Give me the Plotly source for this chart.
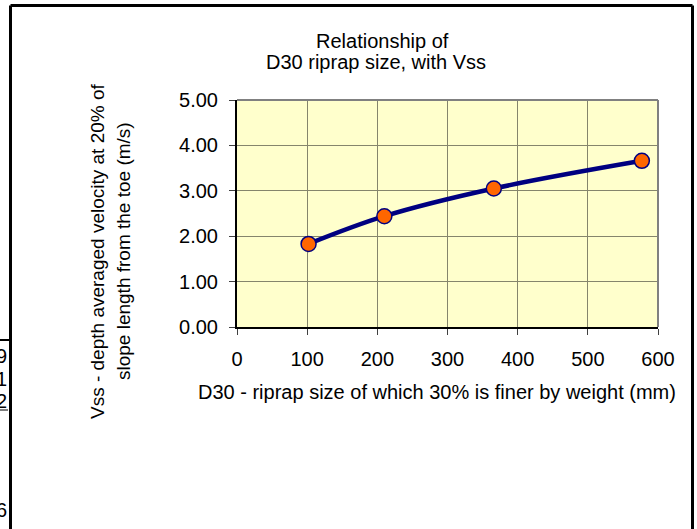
import plotly.graph_objects as go

# D30 riprap size (mm) and the matching Vss (m/s)
d30_mm = [102, 210, 366, 577]
vss_ms = [1.83, 2.44, 3.05, 3.66]

x_ticks = [0, 100, 200, 300, 400, 500, 600]
y_ticks = [0, 1, 2, 3, 4, 5]
y_tick_text = ["0.00", "1.00", "2.00", "3.00", "4.00", "5.00"]

title_lines = ["Relationship of", "D30 riprap size, with Vss"]
x_title = "D30 - riprap size of which 30% is finer by weight (mm)"
y_title_lines = ["Vss - depth averaged velocity at 20% of", "slope length from the toe (m/s)"]

# clipped spreadsheet cell values peeking out left of the chart object
side_digits = ["9", "1", "2", "6"]

W, H = 697, 529
ML, MR, MT, MB = 237, 39, 100, 202
PW, PH = W - ML - MR, H - MT - MB


def px(x):
    return (x - ML) / PW


def py(y):
    return (H - MB - y) / PH


FONT = "Liberation Sans, Arial, sans-serif"
fs = 20      # horizontal text
fs_rot = 19  # rotated axis title

fig = go.Figure()
fig.add_trace(go.Scatter(
    x=d30_mm, y=vss_ms,
    mode="lines+markers",
    line=dict(color="#000080", width=4.5, shape="spline", smoothing=1),
    marker=dict(size=15, color="#FF6600", line=dict(color="#000080", width=1.5)),
    hoverinfo="x+y",
))

axis_common = dict(
    showgrid=True, gridcolor="#85856c", gridwidth=1,
    ticks="outside", ticklen=6, tickcolor="#404040", tickwidth=1,
    showline=True, linecolor="black", linewidth=2,
    zeroline=False,
    tickfont=dict(family=FONT, size=fs, color="black"),
)

fig.update_xaxes(range=[0, 600], tickvals=x_ticks, ticklabelstandoff=7, **axis_common)
fig.update_yaxes(range=[0, 5], tickvals=y_ticks, ticktext=y_tick_text,
                 ticklabelstandoff=7, **axis_common)

shapes = [
    # gray top/right edges of the plot area
    dict(type="line", xref="paper", yref="paper", x0=0, x1=1, y0=1, y1=1,
         line=dict(color="#808080", width=2)),
    dict(type="line", xref="paper", yref="paper", x0=1, x1=1, y0=0, y1=1,
         line=dict(color="#808080", width=2)),
    # outer chart-object frame
    dict(type="line", xref="paper", yref="paper", x0=px(10.5), x1=px(10.5),
         y0=py(540), y1=py(5.5), line=dict(color="black", width=3)),
    dict(type="line", xref="paper", yref="paper", x0=px(10.5), x1=px(692.5),
         y0=py(5.5), y1=py(5.5), line=dict(color="black", width=3)),
    dict(type="line", xref="paper", yref="paper", x0=px(692.5), x1=px(692.5),
         y0=py(540), y1=py(5.5), line=dict(color="black", width=3)),
    # cell borders to the left of the frame
    dict(type="line", xref="paper", yref="paper", x0=px(-2), x1=px(10),
         y0=py(340), y1=py(340), line=dict(color="black", width=2)),
    dict(type="line", xref="paper", yref="paper", x0=px(-2), x1=px(8),
         y0=py(410), y1=py(410), line=dict(color="black", width=1)),
]


def label(text, x, y, size=fs, angle=0, anchor="center"):
    return dict(text=text, x=px(x), y=py(y), xref="paper", yref="paper",
                showarrow=False, textangle=angle, xanchor=anchor, yanchor="middle",
                font=dict(family=FONT, size=size, color="black"))


annotations = [
    label(title_lines[0], 382, 41),
    label(title_lines[1], 375.5, 62.5),
    label(x_title, 437, 392),
    label(y_title_lines[0], 97, 251, size=fs_rot, angle=-90),
    label(y_title_lines[1], 123, 251, size=fs_rot, angle=-90),
]

for d, yy in zip(side_digits, [356, 379, 401, 510]):
    annotations.append(label(d, 9, yy, anchor="right"))

fig.update_layout(
    width=W, height=H,
    margin=dict(l=ML, r=MR, t=MT, b=MB, pad=0),
    paper_bgcolor="white",
    plot_bgcolor="#FFFFCC",
    showlegend=False,
    shapes=shapes,
    annotations=annotations,
)

fig.write_html("out.html")
